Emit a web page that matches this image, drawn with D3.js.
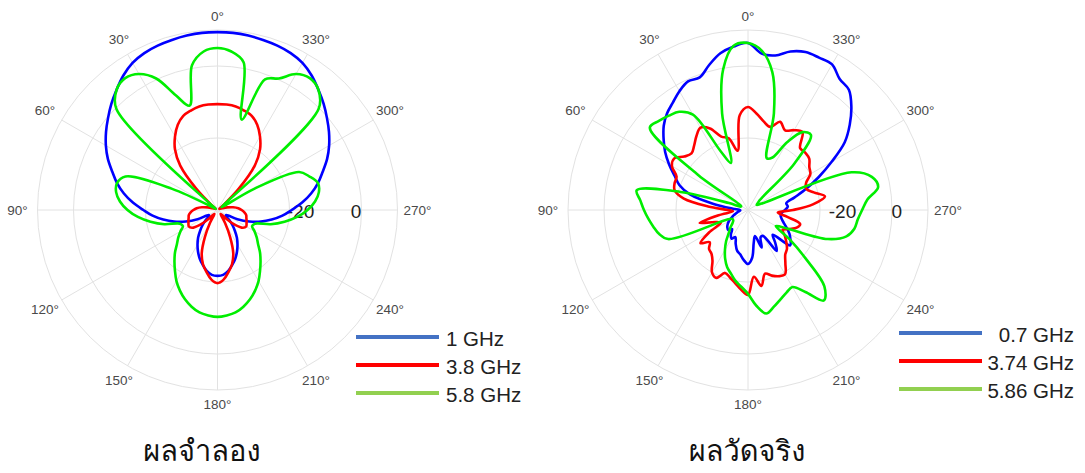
<!DOCTYPE html>
<html>
<head>
<meta charset="utf-8">
<script src="https://cdn.jsdelivr.net/npm/d3@7"></script>
<style>
body { margin: 0; background: #fff; }
svg { display: block; font-family: "Liberation Sans", Arial, sans-serif; }
</style>
</head>
<body>
<div id="vis"></div>
<script>
// angle grid in degrees, counter-clockwise from the top (0 deg up, 90 deg left)
var angles = d3.range(0, 360, 5);
var angle_ticks = d3.range(0, 360, 30);
var radial_ticks = [-20, 0];
var radial_range = [-40, 10];   // dB at centre, dB at outer ring

// simulated patterns (dB), one value per 5 degrees
var sim_labels = ["1 GHz", "3.8 GHz", "5.8 GHz"];
var sim_1ghz = [9.4, 9.4, 9.2, 8.9, 8.6, 8.1, 7.2, 5.6, 3.6, 1.7,
    -0.3, -2.2, -4.2, -6.4, -8.9, -11.1, -13.6, -16.4, -19.4, -21.9,
    -24.7, -27.5, -30.6, -33.9, -37.2, -37.2, -35.8, -34.2, -32.5, -30.6,
    -28.9, -27.2, -25.6, -24.2, -22.8, -21.9, -21.7,
    -21.9, -22.8, -24.2, -25.6, -27.2, -28.9, -30.6, -32.5, -34.2, -35.8,
    -37.2, -37.2, -33.9, -30.6, -27.5, -24.7, -21.9, -19.4, -16.4, -13.6,
    -11.1, -8.9, -6.4, -4.2, -2.2, -0.3, 1.7, 3.6, 5.6, 7.2,
    8.1, 8.6, 8.9, 9.2, 9.4];
var sim_38ghz = [-10.6, -10.6, -10.8, -11.4, -12.2, -13.9, -16.4, -19.4, -23.9, -31.7,
    -37.8, -39.2, -39.4, -39.2, -38.6, -37.2, -35.6, -34.2, -33.3, -32.5,
    -31.9, -31.7, -31.4, -31.1, -30.8, -31.4, -33.6, -36.7, -38.6, -38.3,
    -35.8, -31.7, -27.2, -24.4, -22.5, -20.6, -19.7,
    -20.6, -22.5, -24.4, -27.2, -31.7, -35.8, -38.3, -38.6, -36.7, -33.6,
    -31.4, -30.8, -31.1, -31.4, -31.7, -31.9, -32.5, -33.3, -34.2, -35.6,
    -37.2, -38.6, -39.2, -39.4, -39.2, -37.8, -31.7, -23.9, -19.4, -16.4,
    -13.9, -12.2, -11.4, -10.8, -10.6];
var sim_58ghz = [5.0, 4.2, 0.8, -10.0, -6.1, 0.3, 3.6, 4.7, 3.6, -0.3,
    -37.2, -39.4, -38.6, -26.1, -12.8, -11.1, -11.4, -12.8, -15.0, -17.8,
    -21.1, -24.7, -28.9, -29.4, -28.1, -26.7, -25.3, -23.3, -21.4, -19.4,
    -17.2, -15.3, -13.6, -12.2, -11.1, -10.6, -10.3,
    -10.6, -11.1, -12.2, -13.6, -15.3, -17.2, -19.4, -21.4, -23.3, -25.3,
    -26.7, -28.1, -29.4, -28.9, -24.7, -21.1, -17.8, -15.0, -12.8, -11.4,
    -11.1, -12.8, -15.0, -28.1, -38.6, -37.2, -0.3, 3.6, 4.7, 3.6,
    0.3, -1.4, -14.0, 1.7, 4.2];

// measured patterns (dB)
var meas_labels = ["0.7 GHz", "3.74 GHz", "5.86 GHz"];
var meas_07ghz = [6.4, 5.6, 4.2, 1.7, -0.8, -0.6, -1.9, -3.6, -5.0, -6.9,
    -9.4, -11.9, -14.7, -17.5, -19.7, -23.3, -30.3, -35.8, -37.8, -37.8,
    -37.2, -36.7, -35.8, -35.0, -33.9, -33.1, -32.5, -32.2, -33.1, -31.7,
    -30.8, -31.7, -30.0, -28.3, -27.5, -26.1, -25.0,
    -26.7, -30.8, -32.5, -28.9, -31.7, -31.7, -26.1, -28.3, -30.3, -24.7,
    -25.6, -26.7, -28.1, -29.4, -30.3, -30.8, -30.6, -29.7, -28.9, -29.2,
    -26.7, -22.8, -18.3, -13.1, -7.2, -3.1, 0.6, 3.6, 4.4, 6.7,
    6.7, 6.7, 5.6, 3.6, 3.6];
var meas_374ghz = [-11.4, -13.6, -23.3, -19.4, -18.3, -15.0, -13.6, -15.0, -16.7, -17.8,
    -16.9, -15.0, -15.6, -18.1, -18.3, -18.9, -21.9, -28.9, -34.4, -35.8,
    -31.7, -26.1, -30.3, -31.7, -27.5, -23.9, -26.1, -24.7, -24.2, -22.8,
    -20.0, -19.2, -21.4, -20.6, -19.4, -17.8, -16.4,
    -21.4, -18.6, -21.7, -20.6, -19.7, -19.4, -21.9, -23.9, -24.7, -26.1,
    -27.5, -28.9, -27.5, -25.6, -25.0, -28.9, -31.7, -27.5, -21.9, -18.3,
    -21.1, -22.8, -22.2, -20.0, -19.2, -17.8, -17.5, -17.5, -13.6, -14.4,
    -15.6, -13.9, -16.1, -15.0, -13.1];
var meas_586ghz = [6.4, 5.8, -0.3, -12.2, -26.1, -21.9, -9.4, -6.7, -5.8, -5.0,
    -4.4, -23.3, -37.8, -37.8, -34.4, -20.6, -8.6, -10.0, -11.1, -12.2,
    -13.3, -14.4, -16.4, -33.9, -35.0, -35.0, -34.4, -33.1, -31.7, -29.4,
    -27.2, -25.0, -23.1, -21.7, -20.0, -18.6, -16.7,
    -13.3, -10.8, -12.2, -13.6, -14.7, -15.3, -12.2, -7.2, -10.0, -19.2,
    -26.1, -31.1, -27.5, -16.4, -11.7, -10.0, -9.4, -8.3, -6.7, -3.3,
    -4.4, -9.4, -35.8, -37.2, -36.7, -35.8, -21.9, -12.8, -13.6, -18.3,
    -23.9, -24.7, -12.2, -1.1, 4.4];

var titles = ["ผลจำลอง", "ผลวัดจริง"];

var line_colors = ["#0000ff", "#ff0000", "#00ee00"];
var legend_colors = ["#4472c4", "#ff0000", "#92d050"];

var width = 1085, height = 473;
var outer_r = 180;

var svg = d3.select("#vis")
    .append("svg")
    .attr("width", width)
    .attr("height", height);

svg.append("rect").attr("width", width).attr("height", height).attr("fill", "#fff");

var r = d3.scaleLinear().domain(radial_range).range([0, outer_r]).clamp(true);

function create_panel(cx, series, labels, title, opt){
    var g = svg.append("g").attr("transform", "translate(" + cx + ",210)");

    // grid circles
    g.selectAll("circle.grid")
        .data(radial_ticks.concat([radial_range[1]]))
        .enter()
        .append("circle")
        .attr("class", "grid")
        .attr("r", function(d){ return r(d); })
        .attr("fill", "none")
        .attr("stroke", "#e2e2e2")
        .attr("stroke-width", 1);

    // spokes
    g.selectAll("line.spoke")
        .data(angle_ticks)
        .enter()
        .append("line")
        .attr("x1", 0).attr("y1", 0)
        .attr("x2", function(d){ return -outer_r * Math.sin(d * Math.PI / 180); })
        .attr("y2", function(d){ return -outer_r * Math.cos(d * Math.PI / 180); })
        .attr("stroke", "#e2e2e2")
        .attr("stroke-width", 1);

    // angle labels
    g.selectAll("text.ang")
        .data(angle_ticks)
        .enter()
        .append("text")
        .attr("x", function(d){
            var a = d * Math.PI / 180;
            return -(194 + 6 * Math.abs(Math.sin(a))) * Math.sin(a);
        })
        .attr("y", function(d){
            var a = d * Math.PI / 180;
            return -(194 + 6 * Math.abs(Math.sin(a))) * Math.cos(a);
        })
        .attr("text-anchor", "middle")
        .attr("dominant-baseline", "central")
        .attr("font-size", 13.5)
        .attr("fill", "#4a4a4a")
        .text(function(d){ return d + "°"; });

    // radial labels, set on the right-hand horizontal
    g.selectAll("text.rad")
        .data(radial_ticks)
        .enter()
        .append("text")
        .attr("x", function(d, i){ return r(d) + opt.rad_dx[i]; })
        .attr("y", 1)
        .attr("text-anchor", "middle")
        .attr("dominant-baseline", "central")
        .attr("font-size", 19)
        .attr("fill", "#222")
        .text(function(d){ return d; });

    var line = d3.lineRadial()
        .angle(function(d){ return -d[0] * Math.PI / 180; })
        .radius(function(d){ return r(d[1]); })
        .curve(d3.curveCatmullRomClosed.alpha(0.5));

    series.forEach(function(vals, i){
        g.append("path")
            .datum(angles.map(function(a, j){ return [a, vals[j]]; }))
            .attr("d", line)
            .attr("fill", "none")
            .attr("stroke", line_colors[i])
            .attr("stroke-width", 2.6)
            .attr("stroke-linejoin", "round");
    });

    // legend
    var lg = svg.append("g");
    labels.forEach(function(lab, i){
        var y = opt.leg_y + i * 28;
        lg.append("line")
            .attr("x1", opt.leg_x).attr("x2", opt.leg_x + 83)
            .attr("y1", y).attr("y2", y)
            .attr("stroke", legend_colors[i])
            .attr("stroke-width", 4);
        lg.append("text")
            .attr("x", opt.text_x)
            .attr("y", y + 1)
            .attr("text-anchor", opt.text_anchor)
            .attr("dominant-baseline", "central")
            .attr("font-size", 20.5)
            .attr("fill", "#222")
            .text(lab);
    });

    svg.append("text")
        .attr("x", opt.title_x)
        .attr("y", 461)
        .attr("text-anchor", "middle")
        .attr("font-size", 29)
        .attr("font-family", "'Tlwg Typo', Loma, Garuda, 'Noto Sans Thai', 'DejaVu Sans', sans-serif")
        .attr("fill", "#111")
        .text(title);
}

create_panel(217.5, [sim_1ghz, sim_38ghz, sim_58ghz], sim_labels, titles[0],
    {rad_dx: [11, -5.5], leg_x: 356, leg_y: 337, text_x: 446, text_anchor: "start", title_x: 202});
create_panel(748, [meas_07ghz, meas_374ghz, meas_586ghz], meas_labels, titles[1],
    {rad_dx: [22.5, 4.7], leg_x: 899, leg_y: 333, text_x: 1074, text_anchor: "end", title_x: 747});
</script>
</body>
</html>
